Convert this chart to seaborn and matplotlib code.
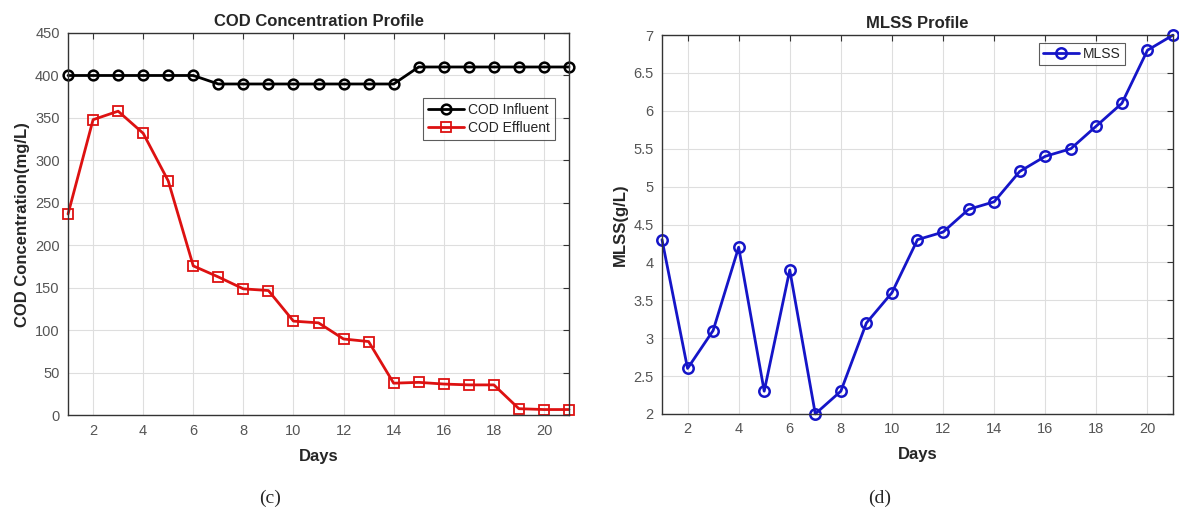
import pandas as pd
import matplotlib
matplotlib.use('Agg')
import matplotlib.pyplot as plt
import seaborn as sns

# Data
days = list(range(1, 22))
cod_influent = [400, 400, 400, 400, 400, 400, 390, 390, 390, 390, 390, 390, 390, 390,
                410, 410, 410, 410, 410, 410, 410]
cod_effluent = [237, 348, 358, 332, 276, 176, 163, 149, 147, 111, 109, 90, 87, 38,
                39, 37, 36, 36, 8, 7, 7]
mlss = [4.3, 2.6, 3.1, 4.2, 2.3, 3.9, 2.0, 2.3, 3.2, 3.6, 4.3, 4.4, 4.7, 4.8,
        5.2, 5.4, 5.5, 5.8, 6.1, 6.8, 7.0]
x_ticks = [2, 4, 6, 8, 10, 12, 14, 16, 18, 20]

sns.set_theme(style='whitegrid')
plt.rcParams['font.family'] = ['Liberation Sans', 'DejaVu Sans']

fig = plt.figure(figsize=(11.79, 5.32), dpi=100)
ax1 = fig.add_axes([0.0577, 0.219, 0.4249, 0.719])
ax2 = fig.add_axes([0.5615, 0.222, 0.4334, 0.712])

cod_df = pd.DataFrame({'Days': days, 'COD Influent': cod_influent, 'COD Effluent': cod_effluent})
mlss_df = pd.DataFrame({'Days': days, 'MLSS': mlss})

sns.lineplot(data=cod_df, x='Days', y='COD Influent', ax=ax1, color='black', marker='o',
             markersize=7, markerfacecolor='none', markeredgecolor='black', markeredgewidth=1.8,
             linewidth=2, label='COD Influent', clip_on=False)
sns.lineplot(data=cod_df, x='Days', y='COD Effluent', ax=ax1, color='#dd1111', marker='s',
             markersize=6.5, markerfacecolor='none', markeredgecolor='#dd1111', markeredgewidth=1.3,
             linewidth=2, label='COD Effluent', clip_on=False)
sns.lineplot(data=mlss_df, x='Days', y='MLSS', ax=ax2, color='#1515c8', marker='o',
             markersize=7.5, markerfacecolor='none', markeredgecolor='#1515c8', markeredgewidth=1.8,
             linewidth=2, label='MLSS', clip_on=False)

for ax in (ax1, ax2):
    ax.set_xlim(1, 21)
    ax.set_xticks(x_ticks)
    ax.grid(True, color='#dedede', linewidth=0.8)
    ax.set_facecolor('white')
    for s in ax.spines.values():
        s.set_color('#333333')
        s.set_linewidth(1.0)
    ax.tick_params(direction='in', top=True, right=True, length=4, width=0.8,
                   colors='#333333', labelcolor='#555555', labelsize=10.5, pad=6)
    ax.set_xlabel('Days', fontsize=12, fontweight='bold', labelpad=8)

ax1.set_ylim(0, 450)
ax1.set_yticks(range(0, 451, 50))
ax1.set_ylabel('COD Concentration(mg/L)', fontsize=12, fontweight='bold', labelpad=4)
ax1.set_title('COD Concentration Profile', fontsize=12, fontweight='bold', pad=5)
leg1 = ax1.legend(loc='upper right', bbox_to_anchor=(0.985, 0.848), fontsize=10, frameon=True,
                  fancybox=False, edgecolor='#333333', handlelength=2.6, borderpad=0.35,
                  labelspacing=0.3, handletextpad=0.3)
leg1.get_frame().set_linewidth(0.8)

ax2.set_ylim(2, 7)
ax2.set_yticks([2, 2.5, 3, 3.5, 4, 4.5, 5, 5.5, 6, 6.5, 7])
ax2.set_yticklabels(['2', '2.5', '3', '3.5', '4', '4.5', '5', '5.5', '6', '6.5', '7'])
ax2.set_ylabel('MLSS(g/L)', fontsize=12, fontweight='bold', labelpad=4)
ax2.set_title('MLSS Profile', fontsize=12, fontweight='bold', pad=5)
leg2 = ax2.legend(loc='upper right', bbox_to_anchor=(0.92, 0.998), fontsize=10, frameon=True,
                  fancybox=False, edgecolor='#333333', handlelength=2.6, borderpad=0.3,
                  handletextpad=0.3)
leg2.get_frame().set_linewidth(0.8)

fig.text(0.229, 0.055, '(c)', fontsize=14, family=['Liberation Serif', 'DejaVu Serif'], ha='center')
fig.text(0.746, 0.055, '(d)', fontsize=14, family=['Liberation Serif', 'DejaVu Serif'], ha='center')

fig.savefig('out.png', dpi=100, facecolor='white')
